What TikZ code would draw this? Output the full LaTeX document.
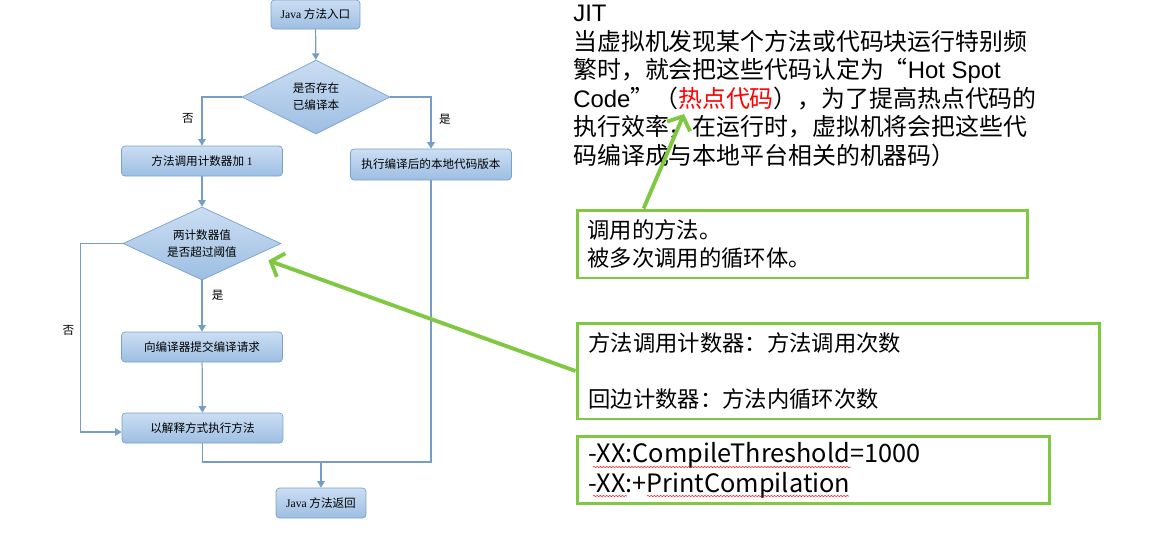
\documentclass[tikz,border=0pt]{standalone}
\usepackage{fontspec}
\setmainfont{Noto Sans CJK SC}
\newfontfamily\tnr{Liberation Serif}
\newfontfamily\arial{Liberation Sans}
\usetikzlibrary{positioning,arrows.meta,shapes.geometric,decorations.pathmorphing}
\definecolor{flowline}{RGB}{118,156,200}
\definecolor{boxtop}{RGB}{203,222,243}
\definecolor{boxbot}{RGB}{157,190,226}
\definecolor{boxedge}{RGB}{122,160,204}
\definecolor{hint}{RGB}{128,200,66}

\begin{document}
\begin{tikzpicture}[
      x=0.02cm, y=-0.02cm,
      font=\fontsize{6.6}{9.6}\selectfont,
      stepbox/.style={draw=boxedge, rounded corners=2pt, top color=boxtop,
                      bottom color=boxbot, minimum width=3.22cm,
                      minimum height=0.6cm, inner sep=1pt},
      dec/.style={diamond, draw=boxedge, top color=boxtop, bottom color=boxbot,
                  aspect=2, inner sep=0pt, align=center},
      flow/.style={draw=flowline, line width=0.7pt,
                   -{Triangle[length=1.3mm,width=1.5mm]}},
      link/.style={draw=flowline, line width=0.7pt},
      note/.style={draw=hint, line width=1.7pt, align=left, inner xsep=0.17cm,
                   font=\fontsize{12.7}{16}\selectfont},
      hintarrow/.style={draw=hint, line width=2.2pt,
                        -{Straight Barb[length=2.2mm,width=5mm]}}
    ]
    \useasboundingbox (0,0) rectangle (1149,539);

    % flow chart
    \node[stepbox, minimum width=1.78cm, minimum height=0.58cm] (entry)
      at (315.5,14.5) {{\tnr Java} 方法入口};
    \node[dec, minimum width=2.96cm, minimum height=1.48cm] (chk)
      at (316,97) {是否存在\\已编译本};
    \node[stepbox] (cnt) at (202,161) {方法调用计数器加 {\tnr 1}};
    \node[stepbox, minimum height=0.62cm] (native) at (431,164.5)
      {执行编译后的本地代码版本};
    \node[dec, minimum width=3.16cm, minimum height=1.46cm] (thr)
      at (202,243.5) {两计数器值\\是否超过阈值};
    \node[stepbox] (submit) at (202,347) {向编译器提交编译请求};
    \node[stepbox] (interp) at (202.5,428) {以解释方式执行方法};
    \node[stepbox, minimum width=1.8cm] (ret) at (321,503)
      {{\tnr Java} 方法返回};

    \draw[flow] (entry) -- (chk);
    \draw[flow] (chk.west) -| node[pos=0.72, left=1pt] {否} (cnt.north);
    \draw[flow] (chk.east) -| node[pos=0.72, right=1pt] {是} (native.north);
    \draw[flow] (cnt) -- (thr);
    \draw[flow] (thr) -- node[pos=0.3, right=2pt] {是} (submit);
    \draw[flow] (submit) -- (interp);
    \draw[flow] (thr.west) -- ++(-42,0) |- node[pos=0.23, left=0pt] {否}
      ([yshift=-0.08cm]interp.west);

    % merge before return
    \coordinate (join) at (ret.north |- 0,462);
    \draw[link] (interp.south) |- (join);
    \draw[link] (native.south) |- (join);
    \draw[flow] (join) -- (ret);

    % explanation text
    \node[anchor=north west, align=left, inner sep=0pt,
          font=\fontsize{13.6}{16.2}\selectfont] (jit) at (573,5)
      {{\arial JIT}\\
       当虚拟机发现某个方法或代码块运行特别频\\
       繁时，就会把这些代码认定为“{\arial Hot Spot}\\
       {\arial Code}”（\textcolor{red}{热点代码}），为了提高热点代码的\\
       执行效率，在运行时，虚拟机将会把这些代\\
       码编译成与本地平台相关的机器码）};

    \node[note, minimum width=9.02cm, minimum height=1.36cm,
          text width=8.6cm] (calls) at (802.5,244)
      {调用的方法。\\被多次调用的循环体。};
    \node[note, minimum width=10.46cm, minimum height=1.92cm,
          text width=10cm] (counters) at (838.5,371)
      {方法调用计数器：方法调用次数\\[16pt]回边计数器：方法内循环次数};
    \node[note, minimum width=9.46cm, minimum height=1.32cm,
          text width=9cm, font=\fontsize{14.4}{17}\selectfont] (flags)
      at (813.5,470)
      {-XX:CompileThreshold=1000\\-XX:+PrintCompilation};

    % spell-check marks
    \foreach \a/\b/\y in {593/851/467, 593/627/496, 647/849/496} {
      \draw[red, line width=0.3pt, decorate, decoration={snake,
            amplitude=0.3pt, segment length=1.8pt}] (\a,\y) -- (\b,\y);
    }

    \coordinate (hot) at (684,114);
    \draw[hintarrow] ([shift={(68,0)}]calls.north west) -- (hot);
    \draw[hintarrow] (counters.west) -- ([shift={(-13,17)}]thr.east);
  \end{tikzpicture}
\end{document}
